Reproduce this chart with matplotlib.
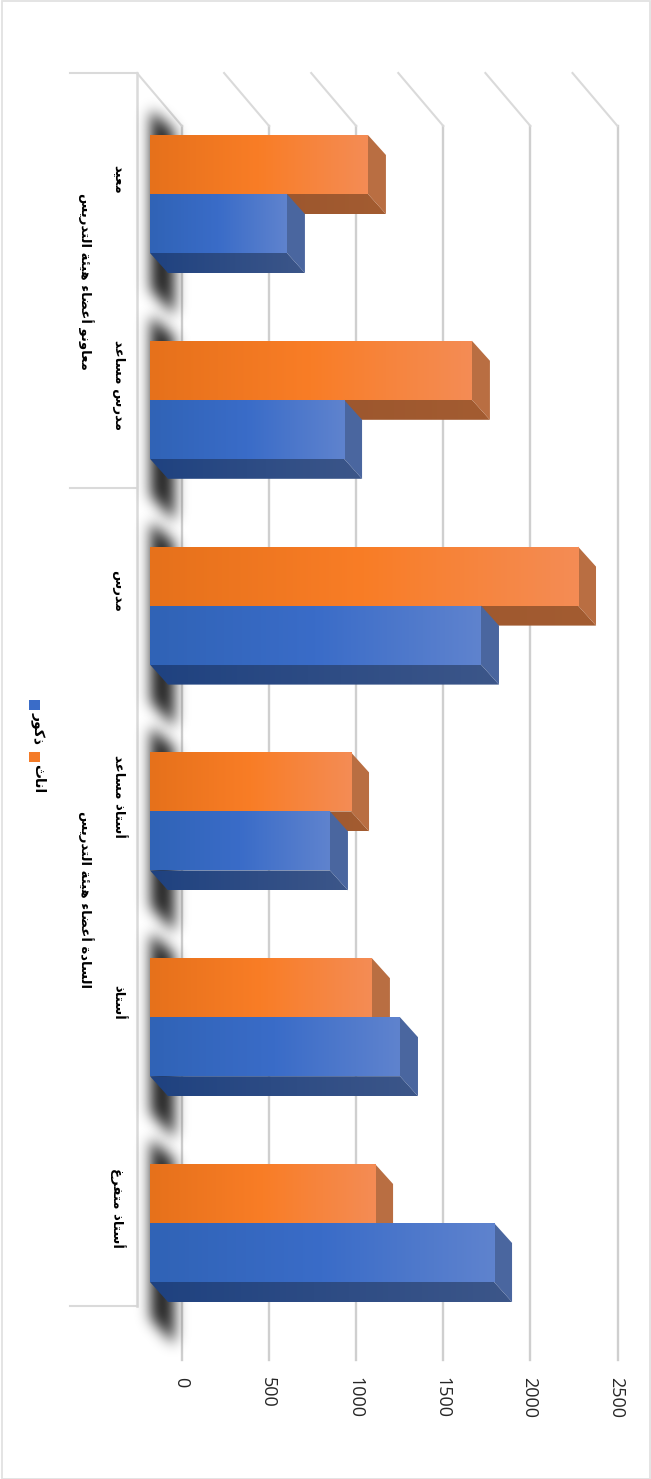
import numpy as np
import matplotlib
matplotlib.use("Agg")
import matplotlib.pyplot as plt
from matplotlib.patches import Polygon, Rectangle
from matplotlib.colors import LinearSegmentedColormap

# ---- data (top to bottom, as the rotated chart shows it)
categories = ["معيد", "مدرس مساعد", "مدرس", "أستاذ مساعد", "أستاذ", "أستاذ متفرغ"]
groups = ["معاونو أعضاء هيئة التدريس", "السادة أعضاء هيئة التدريس"]
group_spans = [(0, 2), (2, 6)]
female = [1251, 1848, 2457, 1154, 1274, 1292]
male = [786, 1114, 1900, 1033, 1435, 1975]
series_names = ["ذكور", "اناث"]
ticks = [0, 500, 1000, 1500, 2000, 2500]

# ---- Arabic shaping: matplotlib has no shaper, so map to presentation forms
FORMS = {'ء': (0xFE80, 1), 'أ': (0xFE83, 2), 'ا': (0xFE8D, 2), 'ئ': (0xFE89, 4), 'ة': (0xFE93, 2),
         'ت': (0xFE95, 4), 'ث': (0xFE99, 4), 'د': (0xFEA9, 2), 'ذ': (0xFEAB, 2), 'ر': (0xFEAD, 2),
         'س': (0xFEB1, 4), 'ض': (0xFEBD, 4), 'ع': (0xFEC9, 4), 'غ': (0xFECD, 4), 'ف': (0xFED1, 4),
         'ك': (0xFED9, 4), 'ل': (0xFEDD, 4), 'م': (0xFEE1, 4), 'ن': (0xFEE5, 4), 'ه': (0xFEE9, 4),
         'و': (0xFEED, 2), 'ي': (0xFEF1, 4)}


def shape(s):
    out = []
    for i, c in enumerate(s):
        if c not in FORMS:
            out.append(c)
            continue
        base, n = FORMS[c]
        p = s[i - 1] if i > 0 else ' '
        nx = s[i + 1] if i + 1 < len(s) else ' '
        prev_joins = p in FORMS and FORMS[p][1] == 4
        next_joins = nx in FORMS and n == 4 and nx != 'ء'
        if prev_joins and next_joins:
            k = 3
        elif prev_joins:
            k = 1
        elif next_joins:
            k = 2
        else:
            k = 0
        out.append(chr(base + k))
    return ''.join(reversed(out))


W, H = 651, 1479
fig = plt.figure(figsize=(W / 100, H / 100), dpi=100, facecolor='white')
ax = fig.add_axes([0, 0, 1, 1])
ax.axis('off')

# scales: value axis horizontal, category axis vertical
PX_PER_UNIT = 0.1742
PX_PER_CAT = 205.8
X0_PX, Y0_PX = 150.0, 194.0
ax.set_xlim(-X0_PX / PX_PER_UNIT, (W - X0_PX) / PX_PER_UNIT)
ax.set_ylim((H - Y0_PX) / PX_PER_CAT, -Y0_PX / PX_PER_CAT)


def ux(px):
    return px / PX_PER_UNIT


def uy(px):
    return px / PX_PER_CAT


DX, DY = ux(18), uy(20)          # bar depth
BAR_H = uy(59)
WALL_DX = ux(32)
FLOOR_LEFT = -ux(13)
TOP = uy(73 - Y0_PX)
WALL_TOP = uy(126 - Y0_PX)
WALL_BOTTOM = uy(1360 - Y0_PX)
FRONT_BOTTOM = uy(1306 - Y0_PX)
N = len(categories)
y_pos = np.arange(N)

GRID = '#cfcfcf'
GRID2 = '#dadada'
# gridlines on back wall, and their floor diagonals
for v in ticks:
    ax.plot([v + WALL_DX] * 2, [WALL_TOP, WALL_BOTTOM], color=GRID, lw=1.7, zorder=1)
    ax.plot([v + FLOOR_LEFT, v + WALL_DX], [TOP, WALL_TOP], color=GRID2, lw=1.5, zorder=1)
# front category axis with multi-level separators
ax.plot([FLOOR_LEFT] * 2, [TOP, FRONT_BOTTOM], color=GRID2, lw=1.8, zorder=1)
for b in [TOP, uy(488 - Y0_PX), FRONT_BOTTOM]:
    ax.plot([FLOOR_LEFT - ux(67), FLOOR_LEFT], [b, b], color=GRID2, lw=1.5, zorder=1)

# soft floor shadow of each bar pair
gx = np.arange(125, 205, dtype=float)
gy = np.arange(0, 300, dtype=float)
XX, YY = np.meshgrid(gx, gy)
mask = ((XX > 150) & (XX < 175) &
        (YY > 44 + (XX - 148) * 0.9) &
        (YY < 226 + (XX - 150) * 1.1)).astype(float)
kernel = np.exp(-0.5 * (np.arange(-21, 22) / 7.0) ** 2)
kernel /= kernel.sum()
blur = np.apply_along_axis(lambda r: np.convolve(r, kernel, mode='same'), 0, mask)
blur = np.apply_along_axis(lambda r: np.convolve(r, kernel, mode='same'), 1, blur)
rgba = np.zeros(blur.shape + (4,))
rgba[..., 3] = np.clip(blur * 0.88, 0, 1)
for i in y_pos:
    # grid row 72 corresponds to the top of the group's front face
    y_top = i - BAR_H - uy(72)
    ax.imshow(rgba, extent=(ux(gx[0] - X0_PX), ux(gx[-1] - X0_PX), y_top + uy(gy[-1]), y_top),
              aspect='auto', zorder=2, interpolation='bilinear')

orange_cmap = LinearSegmentedColormap.from_list('o', ['#E6711B', '#F97D26', '#F48C55'])
blue_cmap = LinearSegmentedColormap.from_list('b', ['#3063B6', '#3A6CC8', '#5F83CE'])
grad = np.linspace(0, 1, 256).reshape(1, -1)


def draw_series(vals, offset, cmap, side, bot0, bot1, z):
    centers = y_pos + offset
    bars = ax.barh(centers, vals, height=BAR_H, color='none', zorder=z + 2)
    for yc, v, patch in zip(centers, vals, bars):
        t = yc - BAR_H / 2
        b = yc + BAR_H / 2
        # lower face
        low = ax.imshow(np.linspace(0, 1, 64).reshape(1, -1),
                        cmap=LinearSegmentedColormap.from_list('l', [bot0, bot1]),
                        extent=(0, v + DX, b + DY, b), aspect='auto', zorder=z)
        low.set_clip_path(Polygon([(0, b), (v, b), (v + DX, b + DY), (DX, b + DY)],
                                  transform=ax.transData))
        # right face
        ax.add_patch(Polygon([(v, t), (v + DX, t + DY), (v + DX, b + DY), (v, b)],
                             facecolor=side, edgecolor='none', zorder=z))
        # front face
        im = ax.imshow(grad, cmap=cmap, extent=(0, v, b, t), aspect='auto', zorder=z + 1)
        im.set_clip_path(Rectangle((0, t), v, BAR_H, transform=ax.transData))


draw_series(female, -BAR_H / 2, orange_cmap, '#B96E42', '#95502A', '#A35C31', 3)
draw_series(male, BAR_H / 2, blue_cmap, '#4A669F', '#1F4280', '#3C5689', 6)

ax.set_xlim(-X0_PX / PX_PER_UNIT, (W - X0_PX) / PX_PER_UNIT)
ax.set_ylim((H - Y0_PX) / PX_PER_CAT, -Y0_PX / PX_PER_CAT)

# value tick labels
for v in ticks:
    ax.text(v + WALL_DX - ux(1), uy(1377 - Y0_PX), f"{v}", rotation=-90, ha='center', va='top',
            fontsize=13, family='Open Sans', color='#262626', zorder=20)

# category labels
AR = dict(rotation=-90, ha='center', va='center', family='DejaVu Sans', fontweight='bold',
          color='black', zorder=20)
for i, c in zip(y_pos, categories):
    ax.text(ux(118 - X0_PX), i - uy(15), shape(c), fontsize=9.5, **AR)
for g, (a, b) in zip(groups, group_spans):
    ax.text(ux(86 - X0_PX), (a + b - 1) / 2 - uy(15), shape(g), fontsize=9.5, **AR)

# legend
legend_colors = ['#3A6CC8', '#F47B28']
for name, col, ly in zip(series_names, legend_colors, [700, 752]):
    ax.add_patch(Rectangle((ux(29 - X0_PX), uy(ly - Y0_PX)), ux(11), uy(10), facecolor=col,
                           edgecolor='none', zorder=20))
    ax.text(ux(38 - X0_PX), uy(ly + 12 - Y0_PX), shape(name), fontsize=10,
            rotation=-90, ha='center', va='top', family='DejaVu Sans', fontweight='bold',
            color='black', zorder=20)

# chart frame
fig.add_artist(Rectangle((1.5 / W, 0.5 / H), (W - 2.5) / W, (H - 1.5) / H, transform=fig.transFigure,
                         fill=False, edgecolor='#e2e2e2', lw=1.3))

fig.savefig('out.png', dpi=100, facecolor='white')
